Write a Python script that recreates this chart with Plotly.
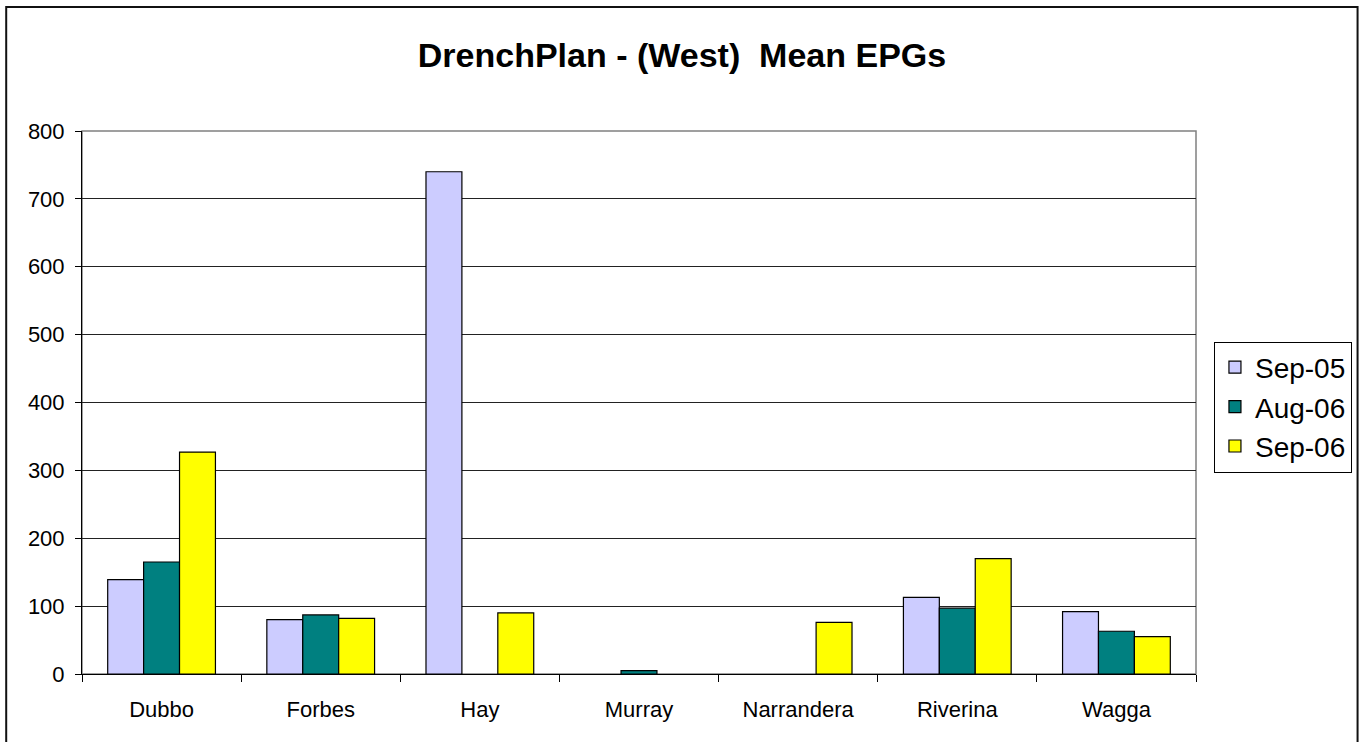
import plotly.graph_objects as go

categories = ["Dubbo", "Forbes", "Hay", "Murray", "Narrandera", "Riverina", "Wagga"]
sep05 = [139, 80, 740, None, None, 113, 92]
aug06 = [165, 87, None, 5, None, 97, 63]
sep06 = [327, 82, 90, None, 76, 170, 55]
series_names = ["Sep-05", "Aug-06", "Sep-06"]
colors = ["#CCCCFF", "#008080", "#FFFF00"]
y_ticks = [0, 100, 200, 300, 400, 500, 600, 700, 800]

fig = go.Figure()
for name, vals, col in zip(series_names, [sep05, aug06, sep06], colors):
    fig.add_trace(go.Bar(
        x=categories, y=vals, name=name,
        marker=dict(color=col, line=dict(color="#000000", width=1.2)),
    ))

W, H = 1364, 742
L, R, T, B = 82, 1199, 131, 674
pw, ph = R - L, B - T

def px(x):
    return (x - L) / pw

def py(y):
    return (B - y) / ph

fig.update_layout(
    width=W, height=H,
    margin=dict(l=L, r=W - R, t=T, b=H - B),
    paper_bgcolor="white", plot_bgcolor="white",
    barmode="group", bargap=0.323, bargroupgap=0,
    font=dict(family="Liberation Sans, Arial, sans-serif", color="#000000", size=22),
    title=dict(text="<b>DrenchPlan - (West)  Mean EPGs</b>", x=0.5, xref="container",
               y=1 - 55 / H, yanchor="middle", xanchor="center",
               font=dict(size=34)),
    showlegend=True,
    legend=dict(x=px(1217), y=py(407), xanchor="left", yanchor="middle",
                bordercolor="#000000", borderwidth=1, bgcolor="white",
                font=dict(size=28), itemwidth=30, tracegroupgap=0),
    xaxis=dict(showline=True, linecolor="#000000", linewidth=1,
               ticks="outside", tickson="boundaries", ticklen=7, tickcolor="#000000",
               showgrid=False, tickfont=dict(size=22), ticklabelstandoff=16),
    yaxis=dict(range=[0, 800], tickvals=y_ticks, showline=True, linecolor="#000000",
               linewidth=1, ticks="outside", ticklen=6, tickcolor="#000000",
               showgrid=True, gridcolor="#222222", gridwidth=1, zeroline=False,
               tickfont=dict(size=22), ticklabelstandoff=6),
    shapes=[
        dict(type="rect", xref="paper", yref="paper", x0=0, x1=1, y0=0, y1=1,
             line=dict(color="#808080", width=1.5), layer="below"),
        dict(type="rect", xref="paper", yref="paper",
             x0=px(6), x1=px(1361), y0=py(760), y1=py(7),
             line=dict(color="#111111", width=2), layer="below"),
    ],
)

fig.write_html("out.html", config={"displayModeBar": False},
               post_script="document.body.style.margin='0';")
